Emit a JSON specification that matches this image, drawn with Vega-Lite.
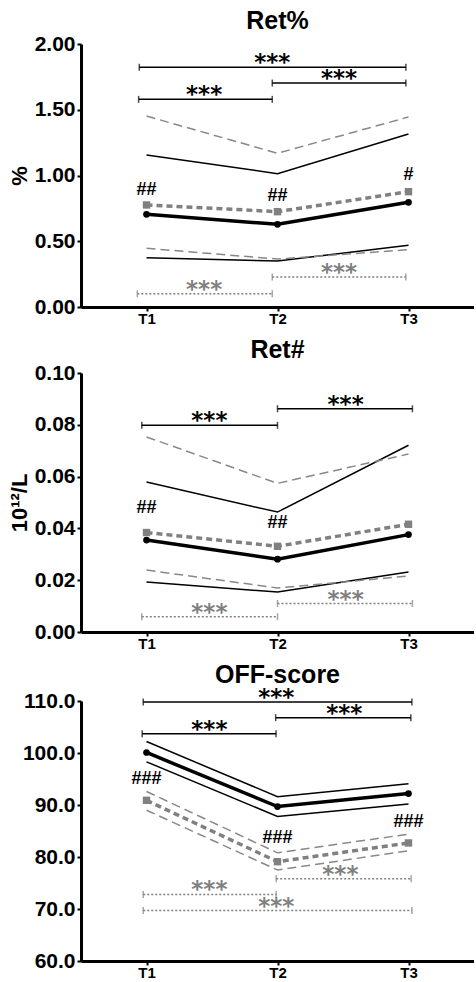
{
  "$schema": "https://vega.github.io/schema/vega-lite/v6.json",
  "padding": {"left": 8, "right": 0, "top": 9, "bottom": 0},
  "spacing": 12,
  "config": {
    "view": {"stroke": null},
    "font": "Liberation Sans",
    "title": {"font": "Liberation Sans", "fontSize": 25, "fontWeight": "bold", "color": "#000", "frame": "group", "offset": -1},
    "axis": {"grid": false, "domainColor": "#000", "domainWidth": 3, "tickColor": "#000", "tickWidth": 2, "tickSize": 4, "labelFont": "Liberation Sans", "labelFontWeight": "bold", "labelColor": "#000", "titleFont": "Liberation Sans", "titleFontWeight": "bold", "titleColor": "#000"},
    "axisX": {"labelFontSize": 15, "labelPadding": 0, "tickSize": 4},
    "axisY": {"labelFontSize": 21, "labelPadding": 2, "titleFontSize": 22, "titlePadding": 3}
  },
  "vconcat": [
    {
      "title": "Ret%",
      "width": 393,
      "height": 263,
      "layer": [
        {
          "data": {"values": [
            {"t": 1, "v": 1.156, "s": "hi"}, {"t": 2, "v": 1.014, "s": "hi"}, {"t": 3, "v": 1.316, "s": "hi"},
            {"t": 1, "v": 0.375, "s": "lo"}, {"t": 2, "v": 0.350, "s": "lo"}, {"t": 3, "v": 0.469, "s": "lo"}
          ]},
          "mark": {"type": "line", "color": "#000", "strokeWidth": 1.5},
          "encoding": {
            "x": {"field": "t", "type": "quantitative", "scale": {"domain": [0.5, 3.5], "nice": false}, "axis": {"values": [1, 2, 3], "labelExpr": "'T' + datum.value", "title": null}},
            "y": {"field": "v", "type": "quantitative", "scale": {"domain": [0, 2], "nice": false}, "axis": {"values": [0, 0.5, 1, 1.5, 2], "format": ".2f", "title": "%"}},
            "detail": {"field": "s"}
          }
        },
        {
          "data": {"values": [
            {"t": 1, "v": 1.452, "s": "hi"}, {"t": 2, "v": 1.169, "s": "hi"}, {"t": 3, "v": 1.445, "s": "hi"},
            {"t": 1, "v": 0.446, "s": "lo"}, {"t": 2, "v": 0.365, "s": "lo"}, {"t": 3, "v": 0.436, "s": "lo"}
          ]},
          "mark": {"type": "line", "color": "#888", "strokeWidth": 1.5, "strokeDash": [9, 5]},
          "encoding": {"x": {"field": "t", "type": "quantitative"}, "y": {"field": "v", "type": "quantitative"}, "detail": {"field": "s"}}
        },
        {
          "data": {"values": [{"t": 1, "v": 0.776}, {"t": 2, "v": 0.725}, {"t": 3, "v": 0.877}]},
          "mark": {"type": "line", "color": "#808080", "strokeWidth": 3.5, "strokeDash": [6, 4], "point": {"shape": "square", "size": 55, "filled": true, "color": "#808080"}},
          "encoding": {"x": {"field": "t", "type": "quantitative"}, "y": {"field": "v", "type": "quantitative"}}
        },
        {
          "data": {"values": [{"t": 1, "v": 0.705}, {"t": 2, "v": 0.629}, {"t": 3, "v": 0.796}]},
          "mark": {"type": "line", "color": "#000", "strokeWidth": 3.5, "point": {"shape": "circle", "size": 45, "filled": true, "color": "#000"}},
          "encoding": {"x": {"field": "t", "type": "quantitative"}, "y": {"field": "v", "type": "quantitative"}}
        },
        {
          "data": {"values": [
            {"x1": 0.945, "x2": 2.98, "xm": 1.96, "y": 1.823, "c": "b"},
            {"x1": 1.96, "x2": 2.98, "xm": 2.47, "y": 1.703, "c": "b"},
            {"x1": 0.94, "x2": 1.96, "xm": 1.44, "y": 1.579, "c": "b"},
            {"x1": 0.93, "x2": 1.96, "xm": 1.44, "y": 0.101, "c": "g"},
            {"x1": 1.96, "x2": 2.98, "xm": 2.47, "y": 0.228, "c": "g"}
          ]},
          "layer": [
            {"transform": [{"filter": "datum.c == 'b'"}], "mark": {"type": "rule", "color": "#000", "strokeWidth": 1.5}, "encoding": {"x": {"field": "x1", "type": "quantitative"}, "x2": {"field": "x2"}, "y": {"field": "y", "type": "quantitative"}}},
            {"transform": [{"filter": "datum.c == 'g'"}], "mark": {"type": "rule", "color": "#808080", "strokeWidth": 1.5, "strokeDash": [2, 2]}, "encoding": {"x": {"field": "x1", "type": "quantitative"}, "x2": {"field": "x2"}, "y": {"field": "y", "type": "quantitative"}}},
            {"mark": {"type": "tick", "orient": "vertical", "size": 7, "thickness": 1.5}, "encoding": {"x": {"field": "x1", "type": "quantitative"}, "y": {"field": "y", "type": "quantitative"}, "color": {"field": "c", "type": "nominal", "scale": {"domain": ["b", "g"], "range": ["#000", "#808080"]}, "legend": null}}},
            {"mark": {"type": "tick", "orient": "vertical", "size": 7, "thickness": 1.5}, "encoding": {"x": {"field": "x2", "type": "quantitative"}, "y": {"field": "y", "type": "quantitative"}, "color": {"field": "c", "type": "nominal", "scale": {"domain": ["b", "g"], "range": ["#000", "#808080"]}, "legend": null}}},
            {"mark": {"type": "text", "text": "***", "font": "DejaVu Sans", "fontWeight": "bold", "fontSize": 23, "baseline": "alphabetic", "dy": 3}, "encoding": {"x": {"field": "xm", "type": "quantitative"}, "y": {"field": "y", "type": "quantitative"}, "color": {"field": "c", "type": "nominal", "scale": {"domain": ["b", "g"], "range": ["#000", "#808080"]}, "legend": null}}}
          ]
        },
        {
          "data": {"values": [{"t": 1, "y": 0.89, "lab": "##"}, {"t": 2, "y": 0.844, "lab": "##"}, {"t": 3, "y": 1.004, "lab": "#"}]},
          "mark": {"type": "text", "font": "Liberation Sans", "fontWeight": "bold", "fontSize": 18, "baseline": "middle", "color": "#000"},
          "encoding": {"x": {"field": "t", "type": "quantitative"}, "y": {"field": "y", "type": "quantitative"}, "text": {"field": "lab"}}
        }
      ]
    },
    {
      "title": "Ret#",
      "width": 393,
      "height": 259,
      "layer": [
        {
          "data": {"values": [
            {"t": 1, "v": 0.0579, "s": "hi"}, {"t": 2, "v": 0.0463, "s": "hi"}, {"t": 3, "v": 0.0721, "s": "hi"},
            {"t": 1, "v": 0.0193, "s": "lo"}, {"t": 2, "v": 0.0154, "s": "lo"}, {"t": 3, "v": 0.0232, "s": "lo"}
          ]},
          "mark": {"type": "line", "color": "#000", "strokeWidth": 1.5},
          "encoding": {
            "x": {"field": "t", "type": "quantitative", "scale": {"domain": [0.5, 3.5], "nice": false}, "axis": {"values": [1, 2, 3], "labelExpr": "'T' + datum.value", "title": null}},
            "y": {"field": "v", "type": "quantitative", "scale": {"domain": [0, 0.1], "nice": false}, "axis": {"values": [0, 0.02, 0.04, 0.06, 0.08, 0.1], "format": ".2f", "title": "10¹²/L"}},
            "detail": {"field": "s"}
          }
        },
        {
          "data": {"values": [
            {"t": 1, "v": 0.0753, "s": "hi"}, {"t": 2, "v": 0.0574, "s": "hi"}, {"t": 3, "v": 0.0687, "s": "hi"},
            {"t": 1, "v": 0.0239, "s": "lo"}, {"t": 2, "v": 0.0170, "s": "lo"}, {"t": 3, "v": 0.0216, "s": "lo"}
          ]},
          "mark": {"type": "line", "color": "#888", "strokeWidth": 1.5, "strokeDash": [9, 5]},
          "encoding": {"x": {"field": "t", "type": "quantitative"}, "y": {"field": "v", "type": "quantitative"}, "detail": {"field": "s"}}
        },
        {
          "data": {"values": [{"t": 1, "v": 0.0384}, {"t": 2, "v": 0.0331}, {"t": 3, "v": 0.0416}]},
          "mark": {"type": "line", "color": "#808080", "strokeWidth": 3.5, "strokeDash": [6, 4], "point": {"shape": "square", "size": 55, "filled": true, "color": "#808080"}},
          "encoding": {"x": {"field": "t", "type": "quantitative"}, "y": {"field": "v", "type": "quantitative"}}
        },
        {
          "data": {"values": [{"t": 1, "v": 0.0355}, {"t": 2, "v": 0.0281}, {"t": 3, "v": 0.0376}]},
          "mark": {"type": "line", "color": "#000", "strokeWidth": 3.5, "point": {"shape": "circle", "size": 45, "filled": true, "color": "#000"}},
          "encoding": {"x": {"field": "t", "type": "quantitative"}, "y": {"field": "v", "type": "quantitative"}}
        },
        {
          "data": {"values": [
            {"x1": 0.964, "x2": 2.0, "xm": 1.48, "y": 0.0798, "c": "b"},
            {"x1": 2.0, "x2": 3.03, "xm": 2.52, "y": 0.0862, "c": "b"},
            {"x1": 0.964, "x2": 2.0, "xm": 1.48, "y": 0.0059, "c": "g"},
            {"x1": 2.0, "x2": 3.03, "xm": 2.52, "y": 0.0110, "c": "g"}
          ]},
          "layer": [
            {"transform": [{"filter": "datum.c == 'b'"}], "mark": {"type": "rule", "color": "#000", "strokeWidth": 1.5}, "encoding": {"x": {"field": "x1", "type": "quantitative"}, "x2": {"field": "x2"}, "y": {"field": "y", "type": "quantitative"}}},
            {"transform": [{"filter": "datum.c == 'g'"}], "mark": {"type": "rule", "color": "#808080", "strokeWidth": 1.5, "strokeDash": [2, 2]}, "encoding": {"x": {"field": "x1", "type": "quantitative"}, "x2": {"field": "x2"}, "y": {"field": "y", "type": "quantitative"}}},
            {"mark": {"type": "tick", "orient": "vertical", "size": 7, "thickness": 1.5}, "encoding": {"x": {"field": "x1", "type": "quantitative"}, "y": {"field": "y", "type": "quantitative"}, "color": {"field": "c", "type": "nominal", "scale": {"domain": ["b", "g"], "range": ["#000", "#808080"]}, "legend": null}}},
            {"mark": {"type": "tick", "orient": "vertical", "size": 7, "thickness": 1.5}, "encoding": {"x": {"field": "x2", "type": "quantitative"}, "y": {"field": "y", "type": "quantitative"}, "color": {"field": "c", "type": "nominal", "scale": {"domain": ["b", "g"], "range": ["#000", "#808080"]}, "legend": null}}},
            {"mark": {"type": "text", "text": "***", "font": "DejaVu Sans", "fontWeight": "bold", "fontSize": 23, "baseline": "alphabetic", "dy": 3}, "encoding": {"x": {"field": "xm", "type": "quantitative"}, "y": {"field": "y", "type": "quantitative"}, "color": {"field": "c", "type": "nominal", "scale": {"domain": ["b", "g"], "range": ["#000", "#808080"]}, "legend": null}}}
          ]
        },
        {
          "data": {"values": [{"t": 1, "y": 0.0478, "lab": "##"}, {"t": 2, "y": 0.0422, "lab": "##"}]},
          "mark": {"type": "text", "font": "Liberation Sans", "fontWeight": "bold", "fontSize": 18, "baseline": "middle", "color": "#000"},
          "encoding": {"x": {"field": "t", "type": "quantitative"}, "y": {"field": "y", "type": "quantitative"}, "text": {"field": "lab"}}
        }
      ]
    },
    {
      "title": "OFF-score",
      "width": 393,
      "height": 260,
      "layer": [
        {
          "data": {"values": [
            {"t": 1, "v": 102.2, "s": "hi"}, {"t": 2, "v": 91.6, "s": "hi"}, {"t": 3, "v": 94.1, "s": "hi"},
            {"t": 1, "v": 98.3, "s": "lo"}, {"t": 2, "v": 87.8, "s": "lo"}, {"t": 3, "v": 90.2, "s": "lo"}
          ]},
          "mark": {"type": "line", "color": "#000", "strokeWidth": 1.5},
          "encoding": {
            "x": {"field": "t", "type": "quantitative", "scale": {"domain": [0.5, 3.5], "nice": false}, "axis": {"values": [1, 2, 3], "labelExpr": "'T' + datum.value", "title": null}},
            "y": {"field": "v", "type": "quantitative", "scale": {"domain": [60, 110], "nice": false, "zero": false}, "axis": {"values": [60, 70, 80, 90, 100, 110], "format": ".1f", "title": null}},
            "detail": {"field": "s"}
          }
        },
        {
          "data": {"values": [
            {"t": 1, "v": 92.6, "s": "hi"}, {"t": 2, "v": 80.8, "s": "hi"}, {"t": 3, "v": 84.4, "s": "hi"},
            {"t": 1, "v": 89.0, "s": "lo"}, {"t": 2, "v": 77.5, "s": "lo"}, {"t": 3, "v": 81.2, "s": "lo"}
          ]},
          "mark": {"type": "line", "color": "#888", "strokeWidth": 1.5, "strokeDash": [9, 5]},
          "encoding": {"x": {"field": "t", "type": "quantitative"}, "y": {"field": "v", "type": "quantitative"}, "detail": {"field": "s"}}
        },
        {
          "data": {"values": [{"t": 1, "v": 90.9}, {"t": 2, "v": 79.1}, {"t": 3, "v": 82.7}]},
          "mark": {"type": "line", "color": "#808080", "strokeWidth": 3.5, "strokeDash": [6, 4], "point": {"shape": "square", "size": 55, "filled": true, "color": "#808080"}},
          "encoding": {"x": {"field": "t", "type": "quantitative"}, "y": {"field": "v", "type": "quantitative"}}
        },
        {
          "data": {"values": [{"t": 1, "v": 100.1}, {"t": 2, "v": 89.7}, {"t": 3, "v": 92.2}]},
          "mark": {"type": "line", "color": "#000", "strokeWidth": 3.5, "point": {"shape": "circle", "size": 45, "filled": true, "color": "#000"}},
          "encoding": {"x": {"field": "t", "type": "quantitative"}, "y": {"field": "v", "type": "quantitative"}}
        },
        {
          "data": {"values": [
            {"x1": 0.975, "x2": 3.026, "xm": 1.99, "y": 109.8, "c": "b"},
            {"x1": 1.986, "x2": 3.018, "xm": 2.51, "y": 106.8, "c": "b"},
            {"x1": 0.967, "x2": 1.989, "xm": 1.48, "y": 103.7, "c": "b"},
            {"x1": 1.99, "x2": 3.02, "xm": 2.48, "y": 75.8, "c": "g"},
            {"x1": 0.975, "x2": 1.99, "xm": 1.48, "y": 72.8, "c": "g"},
            {"x1": 0.975, "x2": 3.026, "xm": 1.99, "y": 69.7, "c": "g"}
          ]},
          "layer": [
            {"transform": [{"filter": "datum.c == 'b'"}], "mark": {"type": "rule", "color": "#000", "strokeWidth": 1.5}, "encoding": {"x": {"field": "x1", "type": "quantitative"}, "x2": {"field": "x2"}, "y": {"field": "y", "type": "quantitative"}}},
            {"transform": [{"filter": "datum.c == 'g'"}], "mark": {"type": "rule", "color": "#808080", "strokeWidth": 1.5, "strokeDash": [2, 2]}, "encoding": {"x": {"field": "x1", "type": "quantitative"}, "x2": {"field": "x2"}, "y": {"field": "y", "type": "quantitative"}}},
            {"mark": {"type": "tick", "orient": "vertical", "size": 7, "thickness": 1.5}, "encoding": {"x": {"field": "x1", "type": "quantitative"}, "y": {"field": "y", "type": "quantitative"}, "color": {"field": "c", "type": "nominal", "scale": {"domain": ["b", "g"], "range": ["#000", "#808080"]}, "legend": null}}},
            {"mark": {"type": "tick", "orient": "vertical", "size": 7, "thickness": 1.5}, "encoding": {"x": {"field": "x2", "type": "quantitative"}, "y": {"field": "y", "type": "quantitative"}, "color": {"field": "c", "type": "nominal", "scale": {"domain": ["b", "g"], "range": ["#000", "#808080"]}, "legend": null}}},
            {"mark": {"type": "text", "text": "***", "font": "DejaVu Sans", "fontWeight": "bold", "fontSize": 23, "baseline": "alphabetic", "dy": 3}, "encoding": {"x": {"field": "xm", "type": "quantitative"}, "y": {"field": "y", "type": "quantitative"}, "color": {"field": "c", "type": "nominal", "scale": {"domain": ["b", "g"], "range": ["#000", "#808080"]}, "legend": null}}}
          ]
        },
        {
          "data": {"values": [{"t": 1, "y": 95.0, "lab": "###"}, {"t": 2, "y": 83.6, "lab": "###"}, {"t": 3, "y": 86.7, "lab": "###"}]},
          "mark": {"type": "text", "font": "Liberation Sans", "fontWeight": "bold", "fontSize": 18, "baseline": "middle", "color": "#000"},
          "encoding": {"x": {"field": "t", "type": "quantitative"}, "y": {"field": "y", "type": "quantitative"}, "text": {"field": "lab"}}
        }
      ]
    }
  ]
}
